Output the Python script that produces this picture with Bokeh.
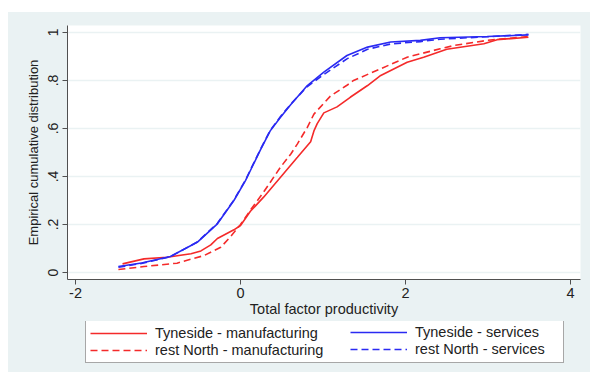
from bokeh.plotting import figure
from bokeh.models import Range1d, FixedTicker, Legend, LegendItem, Spacer
from bokeh.layouts import column, row
from bokeh.embed import file_html
from bokeh.resources import INLINE

# Empirical CDFs of total factor productivity
tyne_manuf_x = [-1.43, -1.17, -0.89, -0.6, -0.48, -0.36, -0.28, -0.08, 0.0, 0.12,
                0.28, 0.485, 0.69, 0.85, 0.89, 0.93, 1.01, 1.17, 1.33, 1.54, 1.70,
                2.02, 2.22, 2.5, 2.95, 3.11, 3.49]
tyne_manuf_y = [0.036, 0.057, 0.064, 0.078, 0.090, 0.115, 0.142, 0.178, 0.196, 0.255,
                0.314, 0.397, 0.48, 0.545, 0.59, 0.62, 0.665, 0.69, 0.73, 0.779, 0.821,
                0.876, 0.897, 0.93, 0.953, 0.97, 0.98]

rest_manuf_x = [-1.48, -1.17, -0.77, -0.44, -0.24, -0.12, 0.0, 0.12, 0.28, 0.485,
                0.61, 0.69, 0.81, 0.89, 1.01, 1.09, 1.29, 1.37, 1.70, 2.02, 2.42,
                2.59, 2.99, 3.49]
rest_manuf_y = [0.0125, 0.025, 0.039, 0.071, 0.105, 0.15, 0.2, 0.26, 0.335, 0.439,
                0.494, 0.536, 0.605, 0.66, 0.705, 0.735, 0.78, 0.8, 0.849, 0.897, 0.932,
                0.946, 0.967, 0.983]

tyne_serv_x = [-1.48, -1.2, -0.85, -0.525, -0.28, -0.08, 0.06, 0.12, 0.24, 0.36,
               0.485, 0.61, 0.81, 1.01, 1.29, 1.54, 1.82, 2.18, 2.42, 2.99, 3.49]
tyne_serv_y = [0.025, 0.04, 0.067, 0.126, 0.203, 0.30, 0.383, 0.425, 0.51, 0.59,
               0.647, 0.70, 0.779, 0.835, 0.904, 0.939, 0.96, 0.967, 0.978, 0.983, 0.99]

rest_serv_x = [-1.48, -1.2, -0.85, -0.525, -0.28, -0.08, 0.06, 0.12, 0.24, 0.36,
               0.485, 0.61, 0.81, 1.01, 1.29, 1.54, 1.82, 2.18, 2.42, 2.99, 3.49]
rest_serv_y = [0.022, 0.038, 0.066, 0.127, 0.205, 0.302, 0.385, 0.428, 0.512, 0.592,
               0.65, 0.702, 0.775, 0.825, 0.89, 0.93, 0.952, 0.962, 0.972, 0.982, 0.992]

x_ticks = [-2, 0, 2, 4]
x_tick_labels = ["-2", "0", "2", "4"]
y_ticks = [0, 0.2, 0.4, 0.6, 0.8, 1.0]
y_tick_labels = ["0", ".2", ".4", ".6", ".8", "1"]

series_names = ["Tyneside - manufacturing", "rest North - manufacturing",
                "Tyneside - services", "rest North - services"]

RED = "#f42a2a"
BLUE = "#2a2af2"
BG = "#eaf2f3"
AXIS = "#505050"
TEXT = "#222222"
FONT = "Liberation Sans"
LW = 1.6
DASH = "7 4"

p = figure(width=582, height=309, output_backend="svg", toolbar_location=None,
           x_range=Range1d(-2.097, 4.121), y_range=Range1d(-0.029, 1.029),
           min_border_left=59, min_border_right=10, min_border_top=13,
           min_border_bottom=42)
p.border_fill_color = BG
p.background_fill_color = "white"
p.outline_line_color = None

p.xaxis.ticker = FixedTicker(ticks=x_ticks)
p.xaxis.major_label_overrides = dict(zip(x_ticks, x_tick_labels))
p.yaxis.ticker = FixedTicker(ticks=y_ticks)
p.yaxis.major_label_overrides = dict(zip(y_ticks, y_tick_labels))
p.yaxis.major_label_orientation = "vertical"

for ax in (p.xaxis[0], p.yaxis[0]):
    ax.axis_line_color = AXIS
    ax.major_tick_line_color = AXIS
    ax.minor_tick_line_color = None
    ax.major_tick_out = 5
    ax.major_tick_in = 0
    ax.major_label_text_font = FONT
    ax.major_label_text_color = TEXT
    ax.axis_label_text_font = FONT
    ax.axis_label_text_font_style = "normal"
    ax.axis_label_text_color = TEXT

p.xaxis.major_label_text_font_size = "14.5px"
p.yaxis.major_label_text_font_size = "14px"
p.xaxis.axis_label = "Total factor productivity"
p.xaxis.axis_label_text_font_size = "14.5px"
p.xaxis.major_label_standoff = 3
p.xaxis.axis_label_standoff = 0
p.yaxis.axis_label = "Empirical cumulative distribution"
p.yaxis.axis_label_text_font_size = "13px"
p.yaxis.major_label_standoff = 4
p.yaxis.axis_label_standoff = 5

p.xgrid.visible = False
p.ygrid.ticker = FixedTicker(ticks=y_ticks)
p.ygrid.grid_line_color = BG
p.ygrid.grid_line_width = 1.5

styles = [dict(line_color=RED, line_width=LW),
          dict(line_color=RED, line_width=LW, line_dash=DASH),
          dict(line_color=BLUE, line_width=LW),
          dict(line_color=BLUE, line_width=LW, line_dash=DASH)]

p.line(tyne_manuf_x, tyne_manuf_y, **styles[0])
p.line(rest_manuf_x, rest_manuf_y, **styles[1])
p.line(tyne_serv_x, tyne_serv_y, **styles[2])
p.line(rest_serv_x, rest_serv_y, **styles[3])

# legend strip underneath the plot; its key lines sit outside the visible range
lg = figure(width=582, height=51, output_backend="svg", toolbar_location=None,
            x_axis_type=None, y_axis_type=None, min_border=0,
            x_range=Range1d(0, 1), y_range=Range1d(0, 1))
lg.border_fill_color = BG
lg.background_fill_color = BG
lg.outline_line_color = None
lg.xgrid.visible = False
lg.ygrid.visible = False
keys = [lg.line([-5, -4], [-5, -4], **s) for s in styles]

common = dict(glyph_width=57, glyph_height=16, label_height=16, spacing=1,
              padding=4, label_standoff=8, label_text_font=FONT,
              label_text_font_size="14.5px", label_text_color=TEXT, margin=0)

# left column carries the framed box spanning both columns
leg1 = Legend(items=[LegendItem(label=series_names[0], renderers=[keys[0]]),
                     LegendItem(label=series_names[1], renderers=[keys[1]])],
              location=(18, 9), label_width=404,
              border_line_color=AXIS, border_line_width=1,
              background_fill_color="white", background_fill_alpha=1.0,
              **common)
leg2 = Legend(items=[LegendItem(label=series_names[2], renderers=[keys[2]]),
                     LegendItem(label=series_names[3], renderers=[keys[3]])],
              location=(283, 15), label_width=150, border_line_color=None,
              background_fill_alpha=0.0, **common)
lg.add_layout(leg1)
lg.add_layout(leg2)

layout = column(Spacer(height=12),
                row(Spacer(width=8),
                    column(p, lg, styles={"background-color": BG})))

open("out.html", "w").write(file_html(layout, INLINE))
